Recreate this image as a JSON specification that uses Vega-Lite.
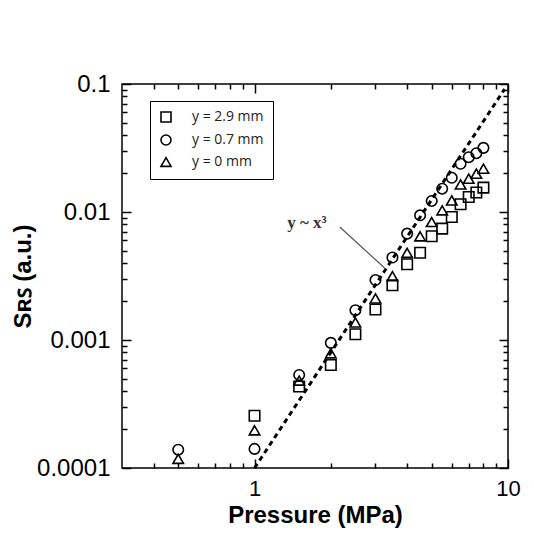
{
  "$schema": "https://vega.github.io/schema/vega-lite/v6.json",
  "width": 386,
  "height": 384,
  "autosize": "none",
  "padding": {"left": 122, "top": 84, "right": 26, "bottom": 72},
  "background": "white",
  "config": {
    "view": {"stroke": "black", "strokeWidth": 1.5},
    "font": "Liberation Sans",
    "axis": {"domain": false, "grid": false, "ticks": true, "tickColor": "black", "tickWidth": 1.5, "tickOpacity": 1, "zindex": 1, "labelColor": "black", "titleColor": "black", "labelFlush": false, "labelOverlap": false}
  },
  "datasets": {
    "pts": [
      {"P": 0.5, "S": 0.000139, "series": "y = 0.7 mm"},
      {"P": 0.5, "S": 0.000118, "series": "y = 0 mm"},
      {"P": 1, "S": 0.000256, "series": "y = 2.9 mm"},
      {"P": 1, "S": 0.000197, "series": "y = 0 mm"},
      {"P": 1, "S": 0.000141, "series": "y = 0.7 mm"},
      {"P": 1.5, "S": 0.000533, "series": "y = 0.7 mm"},
      {"P": 1.5, "S": 0.000482, "series": "y = 0 mm"},
      {"P": 1.5, "S": 0.000433, "series": "y = 2.9 mm"},
      {"P": 2, "S": 0.00095, "series": "y = 0.7 mm"},
      {"P": 2, "S": 0.000787, "series": "y = 0 mm"},
      {"P": 2, "S": 0.000638, "series": "y = 2.9 mm"},
      {"P": 2.5, "S": 0.00171, "series": "y = 0.7 mm"},
      {"P": 2.5, "S": 0.00137, "series": "y = 0 mm"},
      {"P": 2.5, "S": 0.00111, "series": "y = 2.9 mm"},
      {"P": 3, "S": 0.00294, "series": "y = 0.7 mm"},
      {"P": 3, "S": 0.00211, "series": "y = 0 mm"},
      {"P": 3, "S": 0.00173, "series": "y = 2.9 mm"},
      {"P": 3.5, "S": 0.00441, "series": "y = 0.7 mm"},
      {"P": 3.5, "S": 0.00315, "series": "y = 0 mm"},
      {"P": 3.5, "S": 0.00268, "series": "y = 2.9 mm"},
      {"P": 4, "S": 0.00678, "series": "y = 0.7 mm"},
      {"P": 4, "S": 0.0048, "series": "y = 0 mm"},
      {"P": 4, "S": 0.00391, "series": "y = 2.9 mm"},
      {"P": 4.5, "S": 0.00942, "series": "y = 0.7 mm"},
      {"P": 4.5, "S": 0.00646, "series": "y = 0 mm"},
      {"P": 4.5, "S": 0.0048, "series": "y = 2.9 mm"},
      {"P": 5, "S": 0.0122, "series": "y = 0.7 mm"},
      {"P": 5, "S": 0.00835, "series": "y = 0 mm"},
      {"P": 5, "S": 0.00646, "series": "y = 2.9 mm"},
      {"P": 5.5, "S": 0.0152, "series": "y = 0.7 mm"},
      {"P": 5.5, "S": 0.0103, "series": "y = 0 mm"},
      {"P": 5.5, "S": 0.00741, "series": "y = 2.9 mm"},
      {"P": 6, "S": 0.0185, "series": "y = 0.7 mm"},
      {"P": 6, "S": 0.0123, "series": "y = 0 mm"},
      {"P": 6, "S": 0.00914, "series": "y = 2.9 mm"},
      {"P": 6.5, "S": 0.0238, "series": "y = 0.7 mm"},
      {"P": 6.5, "S": 0.0164, "series": "y = 0 mm"},
      {"P": 6.5, "S": 0.0115, "series": "y = 2.9 mm"},
      {"P": 7, "S": 0.0268, "series": "y = 0.7 mm"},
      {"P": 7, "S": 0.0182, "series": "y = 0 mm"},
      {"P": 7, "S": 0.0131, "series": "y = 2.9 mm"},
      {"P": 7.5, "S": 0.0288, "series": "y = 0.7 mm"},
      {"P": 7.5, "S": 0.0199, "series": "y = 0 mm"},
      {"P": 7.5, "S": 0.0142, "series": "y = 2.9 mm"},
      {"P": 8, "S": 0.0317, "series": "y = 0.7 mm"},
      {"P": 8, "S": 0.0218, "series": "y = 0 mm"},
      {"P": 8, "S": 0.0155, "series": "y = 2.9 mm"}
    ],
    "fit": [
      {"P": 1, "S": 0.0001},
      {"P": 9.7, "S": 0.0913}
    ],
    "note": [
      {"P": 1.61, "S": 0.0082, "label": "y ~ x³"}
    ],
    "leader": [
      {"P": 2.17, "S": 0.00764, "Pend": 3.26, "Send": 0.00365}
    ]
  },
  "layer": [
    {
      "data": {"name": "pts"},
      "mark": {"type": "point", "filled": false, "color": "black", "strokeWidth": 1.6, "size": 110, "opacity": 1},
      "encoding": {
        "x": {
          "field": "P", "type": "quantitative",
          "scale": {"type": "log", "domain": [0.3, 10], "nice": false},
          "axis": {
            "orient": "bottom",
            "ticks": true,
            "tickSize": -9,
            "tickColor": "black",
            "tickWidth": 1.5,
            "values": [1, 10],
            "format": "~g",
            "labelFontSize": 22,
            "labelPadding": 19,
            "title": "Pressure (MPa)",
            "titleFontSize": 24,
            "titleFontWeight": "bold",
            "titlePadding": 4
          }
        },
        "y": {
          "field": "S", "type": "quantitative",
          "scale": {"type": "log", "domain": [0.0001, 0.1], "nice": false},
          "axis": {
            "orient": "left",
            "ticks": true,
            "tickSize": -9,
            "tickColor": "black",
            "tickWidth": 1.5,
            "values": [0.0001, 0.001, 0.01, 0.1],
            "format": "~g",
            "labelFontSize": 24,
            "labelPadding": 21,
            "title": "Sʀꜱ (a.u.)",
            "titleFontSize": 24,
            "titleFontWeight": "bold",
            "titlePadding": 1
          }
        },
        "shape": {
          "field": "series", "type": "nominal",
          "scale": {"domain": ["y = 2.9 mm", "y = 0.7 mm", "y = 0 mm"], "range": ["square", "circle", "triangle-up"]},
          "legend": {
            "orient": "none",
            "legendX": 28,
            "legendY": 17,
            "title": null,
            "strokeColor": "black",
            "padding": 9,
            "labelFont": "Open Sans",
            "labelFontSize": 14,
            "labelColor": "#222",
            "labelOffset": 19,
            "symbolSize": 100,
            "symbolStrokeWidth": 1.6,
            "symbolStrokeColor": "black",
            "rowPadding": 5,
            "fillColor": "white",
            "encode": {"legend": {"update": {"strokeWidth": {"value": 2}}}}
          }
        }
      }
    },
    {
      "data": {"name": "fit"},
      "mark": {"type": "line", "color": "black", "strokeWidth": 3, "strokeDash": [5, 4]},
      "encoding": {
        "x": {
          "field": "P", "type": "quantitative",
          "axis": {"orient": "top", "ticks": true, "tickSize": -9, "tickWidth": 1.5, "tickColor": "black", "values": [1, 10], "labels": false, "title": null}
        },
        "y": {
          "field": "S", "type": "quantitative",
          "axis": {"orient": "right", "ticks": true, "tickSize": -9, "tickWidth": 1.5, "tickColor": "black", "values": [0.0001, 0.001, 0.01, 0.1], "labels": false, "title": null}
        }
      }
    },
    {
      "data": {"name": "leader"},
      "mark": {"type": "rule", "color": "#555", "strokeWidth": 1.2},
      "encoding": {
        "x": {
          "field": "P", "type": "quantitative",
          "axis": {"orient": "bottom", "ticks": true, "tickSize": -5, "tickWidth": 1.5, "tickColor": "black", "values": [0.4, 0.5, 0.6, 0.7, 0.8, 0.9, 2, 3, 4, 5, 6, 7, 8, 9], "labels": false, "title": null}
        },
        "y": {
          "field": "S", "type": "quantitative",
          "axis": {"orient": "left", "ticks": true, "tickSize": -5, "tickWidth": 1.5, "tickColor": "black", "values": [0.0002, 0.0003, 0.0004, 0.0005, 0.0006, 0.0007, 0.0008, 0.0009, 0.002, 0.003, 0.004, 0.005, 0.006, 0.007, 0.008, 0.009, 0.02, 0.03, 0.04, 0.05, 0.06, 0.07, 0.08, 0.09], "labels": false, "title": null}
        },
        "x2": {"field": "Pend"},
        "y2": {"field": "Send"}
      }
    },
    {
      "data": {"name": "note"},
      "mark": {"type": "text", "font": "Liberation Serif", "fontWeight": "bold", "fontSize": 17, "color": "#333", "align": "center", "baseline": "middle"},
      "encoding": {
        "x": {
          "field": "P", "type": "quantitative",
          "axis": {"orient": "top", "ticks": true, "tickSize": -5, "tickWidth": 1.5, "tickColor": "black", "values": [0.4, 0.5, 0.6, 0.7, 0.8, 0.9, 2, 3, 4, 5, 6, 7, 8, 9], "labels": false, "title": null}
        },
        "y": {
          "field": "S", "type": "quantitative",
          "axis": {"orient": "right", "ticks": true, "tickSize": -5, "tickWidth": 1.5, "tickColor": "black", "values": [0.0002, 0.0003, 0.0004, 0.0005, 0.0006, 0.0007, 0.0008, 0.0009, 0.002, 0.003, 0.004, 0.005, 0.006, 0.007, 0.008, 0.009, 0.02, 0.03, 0.04, 0.05, 0.06, 0.07, 0.08, 0.09], "labels": false, "title": null}
        },
        "text": {"field": "label"}
      }
    }
  ],
  "resolve": {"axis": {"x": "independent", "y": "independent"}}
}
